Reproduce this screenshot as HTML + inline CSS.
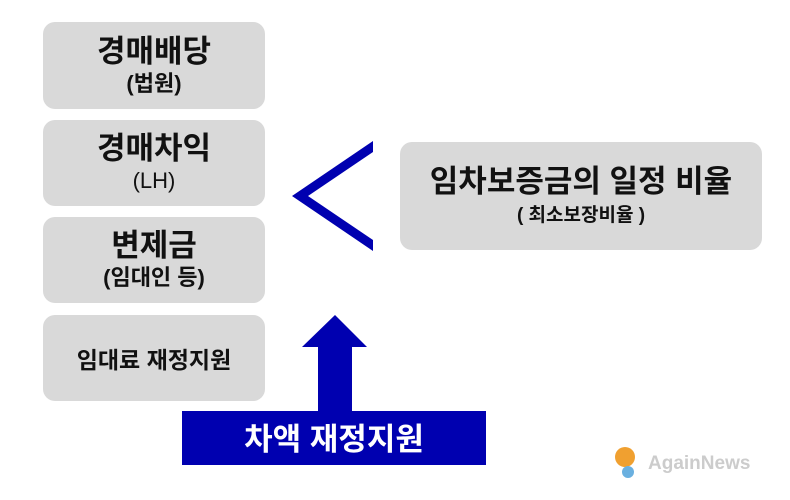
<!DOCTYPE html>
<html><head><meta charset="utf-8"><style>
body{margin:0;width:790px;height:500px;background:#fff;position:relative;overflow:hidden;font-family:"Liberation Sans","Noto Sans CJK KR",sans-serif;font-weight:bold;color:#111}
.b{position:absolute;background:#d9d9d9;border-radius:12px;text-align:center;display:flex;flex-direction:column;justify-content:center;align-items:center}
.t{font-size:31px;line-height:36px}
.s{font-size:22px;line-height:28px}
</style></head><body>
<div class="b" style="left:43px;top:22px;width:222px;height:87px"><div class="t">경매배당</div><div class="s">(법원)</div></div>
<div class="b" style="left:43px;top:120px;width:222px;height:86px"><div class="t">경매차익</div><div class="s" style="font-weight:normal">(LH)</div></div>
<div class="b" style="left:43px;top:217px;width:222px;height:86px"><div class="t">변제금</div><div class="s">(임대인 등)</div></div>
<div class="b" style="left:43px;top:315px;width:222px;height:86px"><div style="font-size:23px">임대료 재정지원</div></div>
<div class="b" style="left:400px;top:142px;width:362px;height:108px"><div style="font-size:31px;line-height:40px">임차보증금의 일정 비율</div><div style="font-size:19px;line-height:28px">( 최소보장비율 )</div></div>
<svg style="position:absolute;left:0;top:0" width="790" height="500">
<polygon points="373,141 292,196 373,251 373,240 308,196 373,152" fill="#0000b0"/>
<polygon points="335,315 367,347 352,347 352,412 318,412 318,347 302,347" fill="#0000b0"/>
<rect x="182" y="411" width="304" height="54" fill="#0000b0"/>
<text x="334" y="450" text-anchor="middle" fill="#fff" font-size="31" font-weight="bold" font-family="Liberation Sans,Noto Sans CJK KR,sans-serif">차액 재정지원</text>
<circle cx="625" cy="457" r="10" fill="#f0a030"/>
<circle cx="628" cy="472" r="6" fill="#6ab0e0"/>
<text x="648" y="469" fill="#ccc" font-size="19" font-family="Liberation Sans,sans-serif">AgainNews</text>
</svg>
</body></html>
